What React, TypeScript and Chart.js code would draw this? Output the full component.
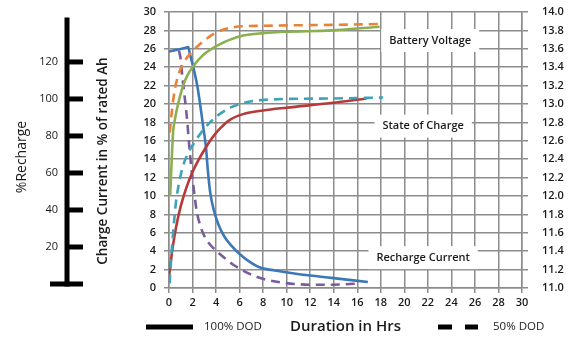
import React, { useEffect, useRef } from 'react';
import { Chart, registerables } from 'chart.js';

Chart.register(...registerables);

const FONT = '"Open Sans", "Noto Sans", "DejaVu Sans", sans-serif';

// ---- Data (hours on x; voltages in V on right axis; others on 0-30 left axis) ----
const voltage100Hours = [0.1, 0.25, 0.35, 0.5, 0.77, 1.2, 1.6, 2.06, 2.8, 3.77, 4.5, 5.2, 6.3, 8, 10, 13.8, 17.9];
const voltage100Values = [12.0, 12.45, 12.7, 12.83, 13.0, 13.2, 13.32, 13.41, 13.52, 13.61, 13.66, 13.7, 13.745, 13.77, 13.785, 13.8, 13.84];

const voltage50Hours = [0.06, 0.26, 0.5, 0.86, 1.35, 1.9, 2.8, 4.06, 5.5, 8, 13.8, 18.2];
const voltage50Values = [12.69, 12.94, 13.16, 13.34, 13.47, 13.56, 13.67, 13.78, 13.835, 13.85, 13.86, 13.87];

const soc100Hours = [0, 0.3, 0.6, 1.0, 1.5, 2.0, 2.5, 3.0, 3.6, 4.3, 5.2, 6.3, 8, 10, 13.8, 16.8];
const soc100Values = [1.2, 4.3, 6.6, 8.9, 11.0, 12.6, 13.9, 15.0, 16.2, 17.3, 18.3, 18.9, 19.3, 19.6, 20.1, 20.6];

const soc50Hours = [0.05, 0.2, 0.35, 0.6, 0.9, 1.2, 1.6, 2.2, 2.8, 3.4, 4.3, 5.2, 6.3, 8.1, 13.8, 18.2];
const soc50Values = [0.5, 3.5, 6.0, 9.4, 11.7, 13.3, 14.6, 15.9, 17.0, 17.9, 18.9, 19.6, 20.1, 20.45, 20.6, 20.7];

const current100Hours = [0, 1.5, 1.63, 1.75, 2.4, 2.9, 3.15, 3.3, 3.5, 3.8, 4.2, 4.7, 5.3, 6.0, 6.8, 7.8, 9, 10.5, 12, 13.8, 16.9];
const current100Values = [25.7, 26.15, 26.2, 25.6, 22, 17.6, 15.2, 12.8, 10.4, 8.5, 6.9, 5.6, 4.6, 3.7, 2.9, 2.2, 1.9, 1.6, 1.35, 1.1, 0.65];

const current50Hours = [0.85, 1.0, 1.1, 1.2, 1.5, 1.7, 1.9, 2.1, 2.35, 2.7, 3.06, 3.5, 4.06, 5.5, 7.5, 9.8, 12.8, 14.9, 16.3];
const current50Values = [25.8, 24.8, 23.4, 22.2, 18.8, 15.8, 13.0, 10.8, 8.4, 6.6, 5.5, 4.7, 4.0, 2.5, 1.2, 0.55, 0.35, 0.4, 0.5];

const rechargeTicks = [0, 20, 40, 60, 80, 100, 120];
const rechargeLabels = [20, 40, 60, 80, 100, 120];

const curveLabels = ['Battery Voltage', 'State of Charge', 'Recharge Current'];
const legendLabels = ['100% DOD', '50% DOD'];

const pts = (xs: number[], ys: number[]) => xs.map((x, i) => ({ x, y: ys[i] }));

const GRID = '#8c8c8c';
const TEXT = '#1a1a1a';

const decorPlugin = {
  id: 'decor',
  afterDraw(chart: any) {
    const { ctx, scales } = chart;
    const xs = scales.x;
    const ys = scales.y;
    const yr = scales.yr;
    ctx.save();

    // decorative %Recharge axis
    const ax = yr.right;
    ctx.strokeStyle = '#000';
    ctx.lineWidth = 5;
    ctx.beginPath();
    ctx.moveTo(ax, yr.getPixelForValue(144));
    ctx.lineTo(ax, yr.getPixelForValue(0) + 2.5);
    ctx.stroke();
    rechargeTicks.forEach((v) => {
      const py = yr.getPixelForValue(v);
      ctx.beginPath();
      ctx.moveTo(v === 0 ? ax - 17 : ax, py);
      ctx.lineTo(ax + 16, py);
      ctx.stroke();
    });

    // rotated titles
    ctx.fillStyle = TEXT;
    ctx.textAlign = 'center';
    ctx.textBaseline = 'middle';
    ctx.save();
    ctx.translate(22, 157);
    ctx.rotate(-Math.PI / 2);
    ctx.font = `400 14px ${FONT}`;
    ctx.fillText('%Recharge', 0, 0);
    ctx.restore();
    ctx.save();
    ctx.translate(103, 161);
    ctx.rotate(-Math.PI / 2);
    ctx.font = `600 13.5px ${FONT}`;
    ctx.fillText('Charge Current in % of rated Ah', 0, 0);
    ctx.restore();

    // curve labels in white boxes
    const anchors = [
      [22.2, 26.9],
      [21.6, 17.6],
      [21.6, 3.3],
    ];
    ctx.font = `600 11px ${FONT}`;
    curveLabels.forEach((t, i) => {
      const cx = xs.getPixelForValue(anchors[i][0]);
      const cy = ys.getPixelForValue(anchors[i][1]);
      const w = ctx.measureText(t).width + 16;
      const h = 23;
      ctx.fillStyle = '#fff';
      ctx.fillRect(cx - w / 2, cy - h / 2, w, h);
      ctx.fillStyle = TEXT;
      ctx.fillText(t, cx, cy);
    });

    // bottom legend
    const ly = 327;
    ctx.strokeStyle = '#000';
    ctx.lineWidth = 5;
    ctx.beginPath();
    ctx.moveTo(146, ly);
    ctx.lineTo(193, ly);
    ctx.stroke();
    ctx.beginPath();
    ctx.moveTo(438, ly);
    ctx.lineTo(452, ly);
    ctx.moveTo(465, ly);
    ctx.lineTo(478, ly);
    ctx.stroke();
    ctx.textAlign = 'left';
    ctx.font = `400 11.5px ${FONT}`;
    ctx.fillStyle = TEXT;
    ctx.fillText(legendLabels[0], 204, ly);
    ctx.fillText(legendLabels[1], 493, ly);

    ctx.restore();
  },
};

const noVPad = (width: number) => (s: any) => {
  s.width = width;
  s.paddingTop = 0;
  s.paddingBottom = 0;
};

export default function App() {
  const ref = useRef<HTMLCanvasElement>(null);
  useEffect(() => {
    if (!ref.current) return;
    const line = (data: any, color: string, yAxisID: string, dashed: boolean) => ({
      data,
      borderColor: color,
      backgroundColor: color,
      borderWidth: 2.6,
      borderDash: dashed ? [9, 6] : [],
      pointRadius: 0,
      yAxisID,
      cubicInterpolationMode: 'monotone',
      fill: false,
    });
    const chart = new Chart(ref.current, {
      type: 'line',
      data: {
        datasets: [
          line(pts(voltage50Hours, voltage50Values), '#E8823A', 'y2', true),
          line(pts(voltage100Hours, voltage100Values), '#8CB050', 'y2', false),
          line(pts(soc50Hours, soc50Values), '#3FA3B8', 'y', true),
          line(pts(soc100Hours, soc100Values), '#B63A3A', 'y', false),
          line(pts(current50Hours, current50Values), '#7A5C9E', 'y', true),
          line(pts(current100Hours, current100Values), '#3C78B8', 'y', false),
        ] as any,
      },
      options: {
        animation: false,
        responsive: false,
        devicePixelRatio: 1,
        layout: { padding: { top: 12, left: 0, right: 0, bottom: 0 } },
        plugins: { legend: { display: false }, tooltip: { enabled: false } },
        scales: {
          x: {
            type: 'linear',
            min: 0,
            max: 30,
            afterFit: (s: any) => { s.height = 55; },
            ticks: { stepSize: 2, padding: 3, color: TEXT, font: { family: FONT, size: 11, weight: '600' } },
            grid: { color: GRID, lineWidth: 1.5, tickLength: 5, tickColor: GRID },
            border: { color: GRID, width: 1.5 },
            title: {
              display: true,
              text: 'Duration in Hrs',
              color: TEXT,
              font: { family: FONT, size: 15, weight: '600' },
              padding: { top: 0, bottom: 7 },
            },
          },
          y: {
            type: 'linear',
            position: 'left',
            min: 0,
            max: 30,
            afterFit: noVPad(102),
            ticks: { stepSize: 2, padding: 8, color: TEXT, font: { family: FONT, size: 11, weight: '600' } },
            grid: { color: GRID, lineWidth: 1.5, tickLength: 5, tickColor: GRID },
            border: { color: GRID, width: 1.5 },
          },
          yr: {
            type: 'linear',
            position: 'left',
            weight: 10,
            min: -2.16,
            max: 147,
            afterFit: noVPad(67),
            afterBuildTicks: (s: any) => { s.ticks = rechargeLabels.map((v) => ({ value: v })); },
            ticks: { padding: 9, color: TEXT, font: { family: FONT, size: 11 } },
            grid: { display: false, drawTicks: false, drawOnChartArea: false },
            border: { display: false },
          },
          y2: {
            type: 'linear',
            position: 'right',
            min: 11,
            max: 14,
            afterFit: noVPad(51),
            ticks: {
              stepSize: 0.2,
              padding: 14,
              color: TEXT,
              font: { family: FONT, size: 11, weight: '600' },
              callback: (v: any) => Number(v).toFixed(1),
            },
            grid: { drawOnChartArea: false, tickLength: 6, tickColor: GRID, lineWidth: 1.5 },
            border: { color: GRID, width: 1.5 },
          },
        },
      } as any,
      plugins: [decorPlugin],
    });
    return () => chart.destroy();
  }, []);
  return (
    <div style={{ position: 'fixed', left: 0, top: 0, width: 573, height: 343, background: '#fff' }}>
      <canvas ref={ref} width={573} height={343} style={{ width: 573, height: 343 }} />
    </div>
  );
}
